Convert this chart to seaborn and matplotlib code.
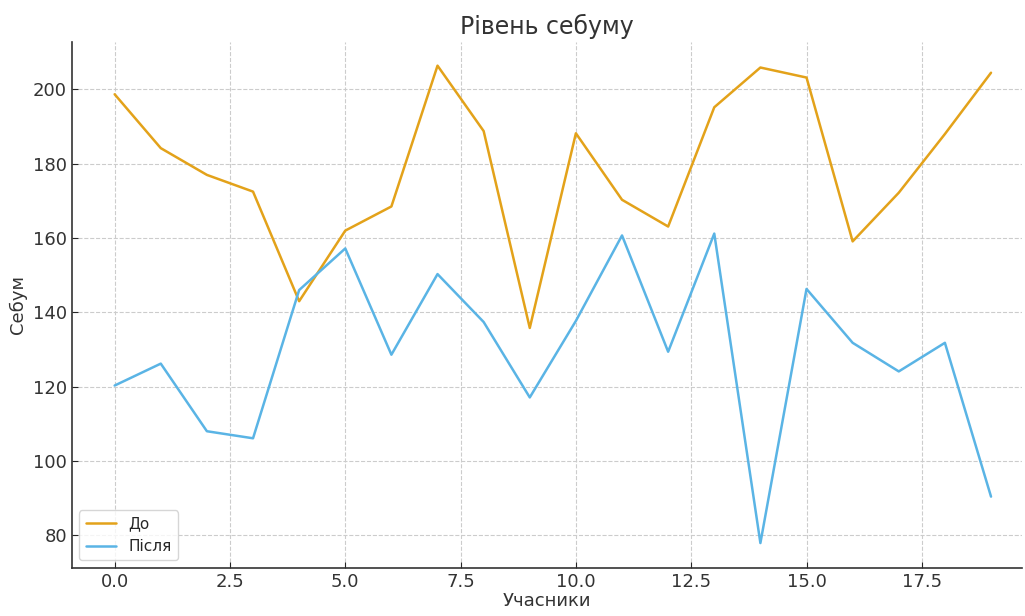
import numpy as np
import pandas as pd
import matplotlib
matplotlib.use("Agg")
import matplotlib.pyplot as plt
import seaborn as sns

# sebum level per participant, before and after
participants = list(range(20))
before = [198.7, 184.2, 177.0, 172.5, 143.0, 162.0, 168.5, 206.4, 188.8, 135.8,
          188.2, 170.3, 163.1, 195.2, 205.9, 203.2, 159.1, 172.2, 188.0, 204.5]
after = [120.3, 126.2, 108.0, 106.1, 146.0, 157.2, 128.6, 150.3, 137.4, 117.1,
         137.7, 160.7, 129.4, 161.2, 77.9, 146.3, 131.8, 124.1, 131.8, 90.4]

df = pd.DataFrame({"Учасники": participants, "До": before, "Після": after})
long = df.melt(id_vars="Учасники", var_name="Група", value_name="Себум")

sns.set_style("whitegrid", {"grid.linestyle": "--", "axes.edgecolor": "#333333"})
plt.rcParams["font.family"] = ["DejaVu Sans"]

fig, ax = plt.subplots(figsize=(10.25, 6.16), dpi=100)
sns.lineplot(data=long, x="Учасники", y="Себум", hue="Група",
             palette=["#E3A21A", "#5AB4E5"], linewidth=1.8, ax=ax)

ax.set_title("Рівень себуму", fontsize=17, color="#333333")
ax.set_xlabel("Учасники", fontsize=13, color="#333333", labelpad=1)
ax.set_ylabel("Себум", fontsize=13, color="#333333")
ax.tick_params(direction="in", labelsize=13, length=4, left=True, bottom=True,
               labelcolor="#333333")
ax.grid(True, color="#cccccc", linewidth=0.8, linestyle="--")
sns.despine(ax=ax)
ax.spines["left"].set_linewidth(1.2)
ax.spines["bottom"].set_linewidth(1.2)
ax.set_xlim(-0.93, 19.67)
ax.set_ylim(71.2, 212.8)
ax.legend(loc="lower left", fontsize=11, title=None)

fig.subplots_adjust(left=0.070, right=0.997, top=0.932, bottom=0.078)
plt.savefig("out.png", dpi=100)
